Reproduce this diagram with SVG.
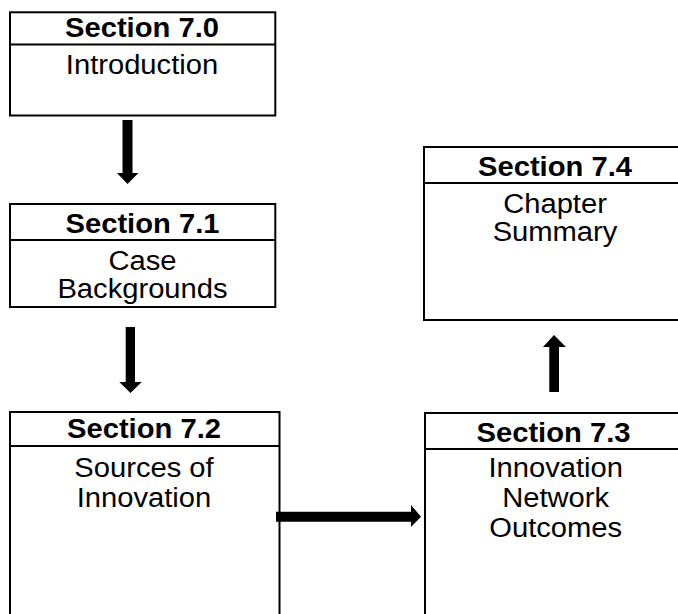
<svg xmlns="http://www.w3.org/2000/svg" width="678" height="614" viewBox="0 0 678 614">
  <style>
    .box { fill: #ffffff; stroke: #000000; stroke-width: 2; }
    .rule { stroke: #000000; stroke-width: 2; }
    .head { font-family: "Liberation Sans", Arial, sans-serif; font-size: 27px; font-weight: bold; fill: #000000; text-anchor: middle; }
    .body { font-family: "Liberation Sans", Arial, sans-serif; font-size: 27px; fill: #000000; text-anchor: middle; }
    .arrow { fill: #000000; stroke: none; }
  </style>
  <rect x="0" y="0" width="678" height="614" fill="#ffffff"/>

  <!-- text blocks are centred at x=0 inside a slightly widened group -->
  <g id="s70">
    <rect class="box" x="10" y="12.3" width="265.3" height="103.2"/>
    <line class="rule" x1="10" y1="44.5" x2="275.3" y2="44.5"/>
    <g transform="translate(142 0) scale(1.08 1)">
      <text class="head" x="0" y="37">Section 7.0</text>
      <text class="body" x="0" y="74">Introduction</text>
    </g>
  </g>

  <g id="s71">
    <rect class="box" x="10" y="204" width="265.3" height="103"/>
    <line class="rule" x1="10" y1="240" x2="275.3" y2="240"/>
    <g transform="translate(142.5 0) scale(1.08 1)">
      <text class="head" x="0" y="233">Section 7.1</text>
      <text class="body" x="0" y="270">Case</text>
      <text class="body" x="0" y="298">Backgrounds</text>
    </g>
  </g>

  <g id="s72">
    <rect class="box" x="10" y="412" width="269.5" height="220"/>
    <line class="rule" x1="10" y1="446" x2="279.5" y2="446"/>
    <g transform="translate(144 0) scale(1.08 1)">
      <text class="head" x="0" y="438">Section 7.2</text>
      <text class="body" x="0" y="477">Sources of</text>
      <text class="body" x="0" y="507.5">Innovation</text>
    </g>
  </g>

  <g id="s73">
    <rect class="box" x="425" y="413" width="262" height="220"/>
    <line class="rule" x1="425" y1="449" x2="687" y2="449"/>
    <g transform="translate(553.5 0) scale(1.08 1)">
      <text class="head" x="0" y="442">Section 7.3</text>
      <text class="body" x="2" y="477.5">Innovation</text>
      <text class="body" x="2" y="507.5">Network</text>
      <text class="body" x="2" y="537.5">Outcomes</text>
    </g>
  </g>

  <g id="s74">
    <rect class="box" x="424" y="147" width="264" height="173"/>
    <line class="rule" x1="424" y1="183" x2="688" y2="183"/>
    <g transform="translate(555 0) scale(1.08 1)">
      <text class="head" x="0" y="176">Section 7.4</text>
      <text class="body" x="0" y="213">Chapter</text>
      <text class="body" x="0" y="241">Summary</text>
    </g>
  </g>

  <g id="connectors">
    <!-- 7.0 to 7.1 -->
    <polygon class="arrow" points="122.5,120 132.5,120 132.5,173 138.5,173 127.5,184 117,173 122.5,173"/>
    <!-- 7.1 to 7.2 -->
    <polygon class="arrow" points="125.7,327 135,327 135,382 141.7,382 130.5,393 119.3,382 125.7,382"/>
    <!-- 7.2 to 7.3 -->
    <polygon class="arrow" points="276,511.7 411,511.7 411,505 421,516.7 411,527 411,521.7 276,521.7"/>
    <!-- 7.3 to 7.4 -->
    <polygon class="arrow" points="549.3,392 559,392 559,347 566,347 554,335 543,347 549.3,347"/>
  </g>
</svg>
